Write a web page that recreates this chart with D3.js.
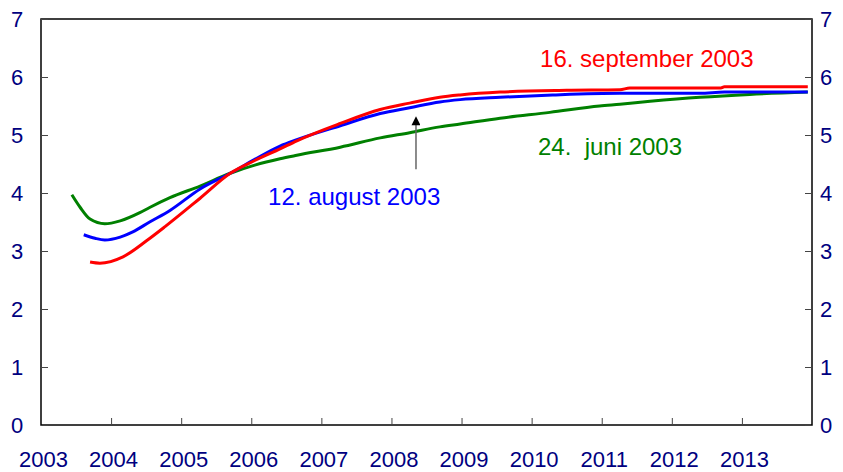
<!DOCTYPE html>
<html>
<head>
<meta charset="utf-8">
<script src="https://cdn.jsdelivr.net/npm/d3@7"></script>
<style>
  body { margin: 0; background: #fff; }
  text { font-family: "Liberation Sans", Arial, sans-serif; }
</style>
</head>
<body>
<div id="root"></div>
<script>
// set the dimensions and margins of the graph
var margin = {top: 19, right: 31, bottom: 47, left: 41}
var width = 843 - margin.left - margin.right
var height = 472 - margin.top - margin.bottom

// curves: [year, percent]
var juni = [
  [2003.44, 3.97], [2003.56, 3.75], [2003.70, 3.55], [2003.91, 3.47], [2004.13, 3.52],
  [2004.41, 3.66], [2004.55, 3.75], [2004.84, 3.92], [2005.27, 4.12], [2005.70, 4.34],
  [2006.05, 4.48], [2006.41, 4.59], [2006.65, 4.65], [2007.27, 4.79], [2007.84, 4.95],
  [2008.26, 5.04], [2008.69, 5.14], [2008.98, 5.19], [2009.55, 5.29], [2010.26, 5.39],
  [2010.97, 5.50], [2011.26, 5.53], [2011.69, 5.58], [2012.40, 5.65], [2013.11, 5.70],
  [2013.94, 5.74]
]
var august = [
  [2003.61, 3.28], [2003.77, 3.22], [2003.91, 3.19], [2004.13, 3.24], [2004.31, 3.33],
  [2004.55, 3.50], [2004.84, 3.70], [2005.27, 4.07], [2005.70, 4.34], [2006.05, 4.58],
  [2006.41, 4.81], [2006.65, 4.92], [2007.27, 5.16], [2007.84, 5.37], [2008.26, 5.47],
  [2008.69, 5.57], [2008.98, 5.61], [2009.55, 5.65], [2010.30, 5.69], [2011.26, 5.72],
  [2012.40, 5.72], [2012.75, 5.74], [2013.94, 5.74]
]
var september = [
  [2003.70, 2.81], [2003.84, 2.79], [2004.17, 2.90], [2004.51, 3.18], [2004.77, 3.42],
  [2005.27, 3.91], [2005.70, 4.34], [2006.05, 4.56], [2006.41, 4.76], [2006.65, 4.90],
  [2007.27, 5.20], [2007.84, 5.44], [2008.26, 5.55], [2008.69, 5.65], [2008.98, 5.69],
  [2009.55, 5.74], [2010.50, 5.77], [2011.26, 5.78], [2011.40, 5.81], [2012.70, 5.81],
  [2012.75, 5.83], [2013.94, 5.83]
]

var yearTicks = [2003, 2004, 2005, 2006, 2007, 2008, 2009, 2010, 2011, 2012, 2013]
var valueTicks = [0, 1, 2, 3, 4, 5, 6, 7]

var series = [
  {name: "24.  juni 2003", values: juni, color: "#008000", lx: 2010.09, ly: 4.66},
  {name: "12. august 2003", values: august, color: "#0000ff", lx: 2006.24, ly: 3.79},
  {name: "16. september 2003", values: september, color: "#ff0000", lx: 2010.12, ly: 6.17}
]

var svg = d3.select("#root")
            .append("svg")
            .attr("width", width + margin.left + margin.right)
            .attr("height", height + margin.top + margin.bottom)
            .append("g")
            .attr("transform",
                  "translate(" + margin.left + "," + margin.top + ")");

var x = d3.scaleLinear()
          .domain([2003, 2014])
          .range([0, width]);
var y = d3.scaleLinear()
          .domain([0, 7])
          .range([height, 0]);

// frame
svg.append("rect")
    .attr("width", width)
    .attr("height", height)
    .attr("fill", "none")
    .attr("stroke", "black")
    .attr("stroke-width", 1.5)

// axes with inward ticks
var axisColor = "#000080"
var fmt = d3.format("d")
var left = svg.append("g")
    .call(d3.axisLeft(y).tickValues(valueTicks).tickFormat(fmt).tickSize(-7))
var right = svg.append("g")
    .attr("transform", "translate(" + width + ",0)")
    .call(d3.axisRight(y).tickValues(valueTicks).tickFormat(fmt).tickSize(-7))
var bottom = svg.append("g")
    .attr("transform", "translate(0," + height + ")")
    .call(d3.axisBottom(x).tickValues(yearTicks).tickFormat(fmt).tickSize(-7))

;[left, right, bottom].forEach(function(g){
  g.select(".domain").remove()
  g.selectAll(".tick line").attr("stroke", "#444")
  g.selectAll(".tick text")
    .attr("fill", axisColor)
    .style("font-size", "22px")
})
left.selectAll(".tick text").attr("text-anchor", "middle").attr("x", -24)
right.selectAll(".tick text").attr("text-anchor", "middle").attr("x", 14)
bottom.selectAll(".tick text").attr("dy", 0).attr("y", 42).attr("x", 2)
bottom.selectAll(".tick line").filter(function(d){ return d == 2003 }).remove()

// curves
var line = d3.line()
    .x(function(d){ return x(d[0]) })
    .y(function(d){ return y(d[1]) })
    .curve(d3.curveMonotoneX)

svg.selectAll(".curve")
    .data(series)
    .enter()
    .append("path")
      .attr("class", "curve")
      .attr("d", function(d){ return line(d.values) })
      .attr("fill", "none")
      .attr("stroke", function(d){ return d.color })
      .attr("stroke-width", 3)
      .attr("stroke-linejoin", "round")

// labels
svg.selectAll(".label")
    .data(series)
    .enter()
    .append("text")
      .attr("class", "label")
      .attr("x", function(d){ return x(d.lx) })
      .attr("y", function(d){ return y(d.ly) })
      .attr("fill", function(d){ return d.color })
      .style("font-size", "24px")
      .style("white-space", "pre")
      .text(function(d){ return d.name })

// arrow pointing at the 12. august curve
svg.append("defs").append("marker")
    .attr("id", "head")
    .attr("viewBox", "0 0 10 10")
    .attr("refX", 2).attr("refY", 5)
    .attr("markerWidth", 11).attr("markerHeight", 9)
    .attr("markerUnits", "userSpaceOnUse")
    .attr("orient", "auto")
  .append("path")
    .attr("d", "M0,0 L10,5 L0,10 Z")
    .attr("fill", "black")

svg.append("line")
    .attr("x1", x(2008.35)).attr("x2", x(2008.35))
    .attr("y1", y(4.41)).attr("y2", y(5.2))
    .attr("stroke", "#666")
    .attr("stroke-width", 1.5)
    .attr("marker-end", "url(#head)")
</script>
</body>
</html>
